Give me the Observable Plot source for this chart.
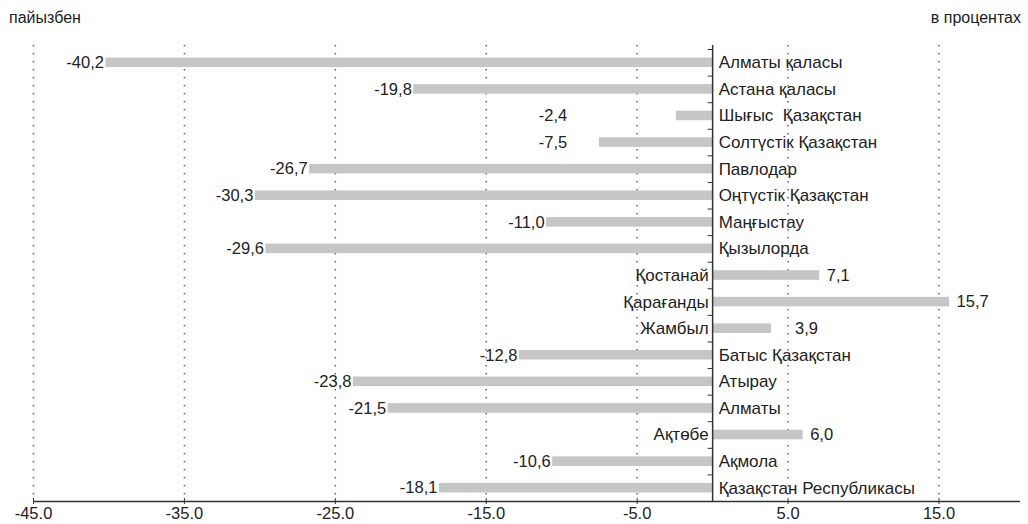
<!DOCTYPE html>
<html><head><meta charset="utf-8">
<script src="https://cdn.jsdelivr.net/npm/d3@7"></script>
<script src="https://cdn.jsdelivr.net/npm/@observablehq/plot@0.6"></script>
<style>
html,body{margin:0;padding:0;background:#fff;overflow:hidden;font-family:"Liberation Sans",Arial,sans-serif;}
#head{position:relative;height:36px;font-size:16px;color:#222;line-height:1;}
#head .l{position:absolute;left:9px;top:10px}
#head .r{position:absolute;right:7px;top:10px}
#chart svg{display:block}
</style></head><body>
<div id="head"><span class="l">пайызбен</span><span class="r">в процентах</span></div>
<div id="chart"></div>
<script>
const regions = ["Алматы қаласы","Астана қаласы","Шығыс  Қазақстан","Солтүстік Қазақстан","Павлодар","Оңтүстік Қазақстан","Маңғыстау","Қызылорда","Қостанай","Қарағанды","Жамбыл","Батыс Қазақстан","Атырау","Алматы","Ақтөбе","Ақмола","Қазақстан Республикасы"];
const values = [-40.2,-19.8,-2.4,-7.5,-26.7,-30.3,-11.0,-29.6,7.1,15.7,3.9,-12.8,-23.8,-21.5,6.0,-10.6,-18.1];
const xTicks = [-45,-35,-25,-15,-5,5,15];
const xDomain = [-45, 20.4];

const data = regions.map((r, i) => ({region: r, value: values[i]}));
const neg = data.filter(d => d.value < 0);
const pos = data.filter(d => d.value >= 0);
const W = 1028, H = 488, mT = 13, mB = 23, mL = 33, mR = 8;
const step = (H - mT - mB) / regions.length;
const fmt = v => v.toFixed(1).replace(".", ",");
const font = "'Liberation Sans', Arial, sans-serif";

const chart = Plot.plot({
  width: W, height: H,
  marginTop: mT, marginBottom: mB, marginLeft: mL, marginRight: mR,
  style: {fontFamily: font, fontSize: "16.5px", color: "#222", background: "#fff"},
  x: {domain: xDomain, label: null},
  y: {domain: regions, paddingInner: 0.64, paddingOuter: 0.32, round: false, axis: null},
  marks: [
    Plot.ruleX(xTicks, {stroke: "#666", strokeWidth: 1.5, strokeDasharray: "1.5,6.5", insetTop: -4}),
    Plot.barX(data, {x: "value", y: "region", fill: "#c6c6c6"}),
    Plot.ruleX([0], {stroke: "#333", strokeWidth: 1.5, insetTop: -4}),
    Plot.ruleY(regions, {y: d => d, x1: -0.3, x2: 0, dy: -step / 2, stroke: "#333"}),
    Plot.ruleY([regions[0]], {y: d => d, x1: xDomain[0], x2: xDomain[1], dy: H - mT - mB - step / 2, stroke: "#333", strokeWidth: 1.5}),
    Plot.ruleX(xTicks, {stroke: "#333", insetTop: H - mT - mB - 3}),
    Plot.axisX({ticks: xTicks, tickFormat: d => d.toFixed(1), tickSize: 3, tickPadding: 3, fontSize: 16.5, stroke: "#333", fill: "#222", label: null}),
    Plot.text(neg, {x: 0, y: "region", text: "region", textAnchor: "start", dx: 6, fill: "#222", fontSize: 17}),
    Plot.text(pos, {x: 0, y: "region", text: "region", textAnchor: "end", dx: -4, fill: "#222", fontSize: 17}),
    Plot.text(neg, {x: d => Math.min(d.value, -9.5), y: "region", text: d => fmt(d.value), textAnchor: "end", dx: -2, fill: "#222"}),
    Plot.text(pos, {x: d => Math.max(d.value, 5.0), y: "region", text: d => fmt(d.value), textAnchor: "start", dx: 7, fill: "#222"})
  ]
});
document.getElementById("chart").append(chart);
</script>
</body></html>
